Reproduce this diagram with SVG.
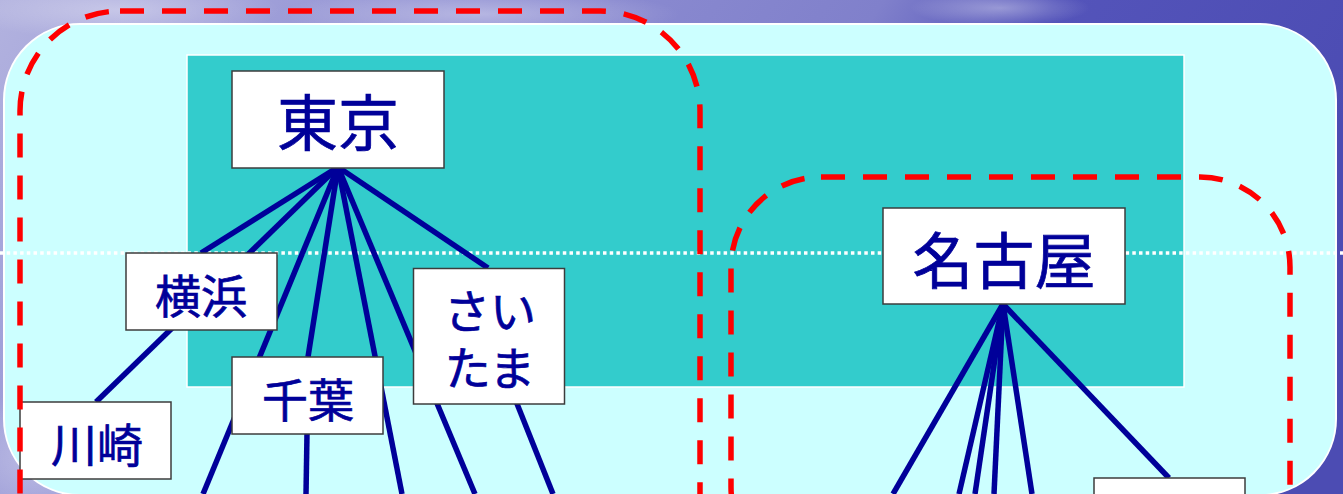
<svg xmlns="http://www.w3.org/2000/svg" width="1343" height="494" viewBox="0 0 1343 494">
  <style>
    .box { fill: #ffffff; stroke: #3c3c3c; stroke-width: 1.5; }
    .lbl { font-family: "Noto Sans CJK JP", "Noto Sans CJK SC", sans-serif; fill: #000099; stroke: #000099; stroke-width: 0.7; text-anchor: middle; }
    .big { font-size: 61px; }
    .mid { font-size: 46px; }
    .conn line { stroke: #000099; stroke-width: 5.5; stroke-linecap: butt; }
    .grp { fill: none; stroke: #ff0000; stroke-width: 5.5; stroke-dasharray: 24 18; }
  </style>
  <defs>
    <linearGradient id="bg" x1="0" y1="0" x2="1" y2="0.25">
      <stop offset="0" stop-color="#b2b2df"/>
      <stop offset="0.35" stop-color="#8e8ed2"/>
      <stop offset="0.62" stop-color="#8080cb"/>
      <stop offset="0.74" stop-color="#5454ba"/>
      <stop offset="1" stop-color="#4c4cb3"/>
    </linearGradient>
    <radialGradient id="cloud">
      <stop offset="0" stop-color="#ffffff" stop-opacity="0.35"/>
      <stop offset="1" stop-color="#ffffff" stop-opacity="0"/>
    </radialGradient>
  </defs>

  <g id="background">
    <rect x="0" y="0" width="1343" height="494" fill="url(#bg)"/>
    <ellipse cx="120" cy="10" rx="160" ry="30" fill="url(#cloud)"/>
    <ellipse cx="480" cy="14" rx="200" ry="25" fill="url(#cloud)"/>
    <ellipse cx="40" cy="460" rx="90" ry="70" fill="url(#cloud)"/>
    <ellipse cx="1000" cy="8" rx="90" ry="18" fill="url(#cloud)"/>
    <rect x="4" y="24" width="1332" height="471" rx="76" ry="76" fill="#ccffff" stroke="#ffffff" stroke-width="2"/>
    <rect x="187" y="55" width="997" height="332" fill="#33cccc" stroke="#ffffff" stroke-width="1.5"/>
    <line x1="0" y1="253" x2="1343" y2="253" stroke="#ffffff" stroke-width="3.3" stroke-dasharray="3.5 3.2"/>
  </g>

  <g id="connectors" class="conn">
    <line x1="338" y1="167" x2="201" y2="253"/>
    <line x1="338" y1="167" x2="96" y2="402"/>
    <line x1="338" y1="167" x2="203" y2="494"/>
    <line x1="338" y1="167" x2="308" y2="357"/>
    <line x1="307" y1="434" x2="306" y2="494"/>
    <line x1="338" y1="167" x2="402" y2="494"/>
    <line x1="338" y1="167" x2="475" y2="494"/>
    <line x1="338" y1="167" x2="488" y2="268"/>
    <line x1="490" y1="336" x2="553" y2="494"/>
    <line x1="1003" y1="304" x2="893" y2="494"/>
    <line x1="1003" y1="304" x2="959" y2="494"/>
    <line x1="1003" y1="304" x2="975" y2="494"/>
    <line x1="1003" y1="304" x2="994" y2="494"/>
    <line x1="1003" y1="304" x2="1032" y2="494"/>
    <line x1="1003" y1="304" x2="1169" y2="478"/>
  </g>

  <g id="node-tokyo">
    <rect class="box" x="232" y="71" width="212" height="97"/>
    <text class="lbl big" x="338" y="146">東京</text>
  </g>
  <g id="node-yokohama">
    <rect class="box" x="126" y="253" width="151" height="77"/>
    <text class="lbl mid" x="201" y="313">横浜</text>
  </g>
  <g id="node-kawasaki">
    <rect class="box" x="20" y="402" width="151" height="77"/>
    <text class="lbl mid" x="97" y="462">川崎</text>
  </g>
  <g id="node-chiba">
    <rect class="box" x="232" y="357" width="151" height="77"/>
    <text class="lbl mid" x="308" y="417">千葉</text>
  </g>
  <g id="node-saitama">
    <rect class="box" x="413.5" y="268.5" width="151" height="135.5"/>
    <text class="lbl mid"><tspan x="490" y="328">さい</tspan><tspan x="490" y="385">たま</tspan></text>
  </g>
  <g id="node-nagoya">
    <rect class="box" x="883" y="208" width="242" height="96"/>
    <text class="lbl big" x="1004" y="284">名古屋</text>
  </g>
  <g id="node-bottom-right">
    <rect class="box" x="1094" y="478" width="151" height="77"/>
  </g>

  <g id="groups">
    <rect class="grp" x="20" y="11" width="680" height="600" rx="100" ry="100"/>
    <rect class="grp" x="731" y="177" width="559" height="400" rx="90" ry="90"/>
  </g>
</svg>
